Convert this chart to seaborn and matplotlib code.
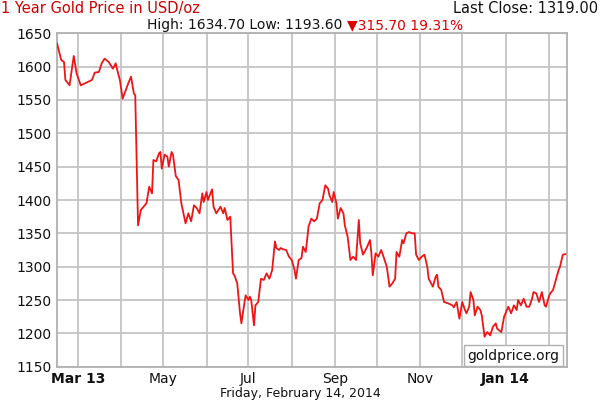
import numpy as np
import pandas as pd
import matplotlib
matplotlib.use("Agg")
import matplotlib.pyplot as plt
import matplotlib.dates as mdates
import seaborn as sns

# ---------------- data ----------------
start_date = "2013-02-14"
end_date = "2014-02-14"
day_offsets = [0, 3, 5, 6, 9, 12, 14, 17, 21, 25, 27, 30, 32, 34, 37, 40, 42, 43, 45, 47,
               51, 53, 55, 56, 58, 60, 62, 64, 66, 68, 69, 71, 73, 74, 75, 77, 79, 80, 82, 83,
               85, 87, 89, 92, 94, 96, 98, 100, 102, 104, 105, 107, 108, 111, 112, 114, 117, 119, 120, 122,
               124, 126, 127, 129, 131, 132, 133, 135, 137, 138, 139, 141, 142, 144, 146, 148, 150, 152, 154, 156,
               157, 159, 160, 162, 164, 166, 168, 170, 171, 173, 175, 176, 178, 179, 180, 182, 184, 186, 188, 190,
               192, 194, 195, 197, 198, 200, 201, 203, 205, 206, 208, 210, 212, 214, 216, 217, 219, 222, 224, 225,
               226, 228, 230, 232, 234, 236, 238, 240, 242, 243, 245, 247, 248, 250, 252, 254, 256, 257, 259, 261,
               263, 265, 266, 269, 271, 272, 273, 275, 277, 280, 283, 284, 286, 288, 290, 292, 293, 295, 296, 298,
               299, 301, 303, 304, 306, 308, 310, 312, 314, 315, 318, 320, 321, 323, 325, 327, 329, 330, 332, 334,
               336, 338, 340, 341, 343, 345, 347, 349, 350, 352, 353, 355, 357, 359, 360, 362, 364]
prices = [1635, 1610, 1607, 1580, 1572, 1616, 1590, 1572, 1576, 1580, 1591, 1592, 1605, 1612, 1607, 1597, 1605, 1596, 1580, 1552,
          1575, 1585, 1560, 1557, 1362, 1385, 1390, 1395, 1420, 1410, 1460, 1458, 1470, 1472, 1447, 1468, 1465, 1450, 1472, 1468,
          1436, 1430, 1395, 1365, 1380, 1368, 1392, 1388, 1380, 1410, 1397, 1412, 1400, 1416, 1390, 1380, 1390, 1380, 1388, 1370,
          1375, 1290, 1287, 1275, 1230, 1215, 1230, 1257, 1250, 1255, 1250, 1212, 1242, 1247, 1282, 1280, 1290, 1282, 1295, 1338,
          1328, 1325, 1328, 1326, 1325, 1315, 1310, 1295, 1282, 1310, 1313, 1330, 1322, 1340, 1360, 1372, 1368, 1372, 1395, 1400,
          1422, 1417, 1407, 1397, 1412, 1395, 1372, 1388, 1380, 1362, 1345, 1310, 1315, 1310, 1370, 1335, 1318, 1330, 1340, 1320,
          1287, 1320, 1315, 1325, 1313, 1300, 1270, 1275, 1282, 1322, 1315, 1340, 1335, 1350, 1352, 1350, 1350, 1318, 1310, 1315,
          1318, 1300, 1282, 1270, 1285, 1288, 1270, 1265, 1247, 1245, 1242, 1239, 1247, 1222, 1247, 1235, 1230, 1240, 1262, 1250,
          1227, 1240, 1235, 1227, 1195, 1202, 1197, 1210, 1215, 1207, 1202, 1225, 1230, 1240, 1230, 1242, 1235, 1250, 1242, 1252,
          1240, 1240, 1252, 1262, 1260, 1247, 1262, 1242, 1240, 1255, 1260, 1265, 1280, 1295, 1300, 1318, 1319]
y_ticks = [1150, 1200, 1250, 1300, 1350, 1400, 1450, 1500, 1550, 1600, 1650]
month_ticks = ["2013-03-01", "2013-04-01", "2013-05-01", "2013-06-01", "2013-07-01", "2013-08-01",
               "2013-09-01", "2013-10-01", "2013-11-01", "2013-12-01", "2014-01-01", "2014-02-01"]
month_labels = ["Mar 13", "", "May", "", "Jul", "", "Sep", "", "Nov", "", "Jan 14", ""]
bold_labels = ["Mar 13", "Jan 14"]
title_left = "1 Year Gold Price in USD/oz"
title_right = "Last Close: 1319.00"
stats_black = "High: 1634.70 Low: 1193.60 "
stats_red = "\u25bc315.70 19.31%"
footer = "Friday, February 14, 2014"
watermark = "goldprice.org"

# ---------------- styling ----------------
sns.set_theme(style="white")
plt.rcParams["font.family"] = ["DejaVu Sans"]

W, H = 600, 400
fig = plt.figure(figsize=(6, 4), dpi=100)
fig.patch.set_facecolor("white")
ax = fig.add_axes([57 / W, 1 - 366.7 / H, 510 / W, 333.4 / H])

df = pd.DataFrame({
    "date": pd.Timestamp(start_date) + pd.to_timedelta(day_offsets, unit="D"),
    "price": prices,
})
sns.lineplot(data=df, x="date", y="price", ax=ax, color="#ee1515", linewidth=1.3, zorder=3)

grid_c = "#c4c4c4"
ax.set_xlim(pd.Timestamp(start_date), pd.Timestamp(end_date))
ax.set_ylim(y_ticks[0], y_ticks[-1])
ax.set_yticks(y_ticks)
ax.set_yticklabels([str(v) for v in y_ticks])
ax.set_xticks([pd.Timestamp(m) for m in month_ticks])
ax.set_xticklabels(month_labels)
for lbl in ax.get_xticklabels():
    if lbl.get_text() in bold_labels:
        lbl.set_fontweight("bold")
ax.grid(True, color=grid_c, linewidth=1.3, zorder=0)
ax.set_axisbelow(True)
for s in ax.spines.values():
    s.set_color("#b0b0b0")
    s.set_linewidth(1.3)
ax.tick_params(axis="both", length=0, labelsize=10, colors="#111111")
ax.tick_params(axis="y", pad=4)
ax.tick_params(axis="x", pad=4)
ax.set_xlabel("")
ax.set_ylabel("")

# watermark box
ax.text(0.985, 0.012, watermark, transform=ax.transAxes, ha="right", va="bottom",
        fontsize=10, color="#111111", zorder=5,
        bbox=dict(boxstyle="square,pad=0.25", facecolor="white", edgecolor="#b0b0b0", linewidth=1))

# header texts (kept just inside the canvas)
fig.text(1 / W, 1 - 1 / H, title_left, ha="left", va="top", fontsize=10.5, color="#cc0000")
fig.text(598 / W, 1 - 1 / H, title_right, ha="right", va="top", fontsize=10.5, color="#111111")
fig.text(347 / W, 1 - 29 / H, stats_black, ha="right", va="baseline", fontsize=10, color="#111111")
fig.text(347 / W, 1 - 29 / H, stats_red, ha="left", va="baseline", fontsize=10, color="#dd0000")
fig.text(300 / W, 0.5 / H, footer, ha="center", va="bottom", fontsize=9, color="#111111")

fig.savefig("out.png", dpi=100, facecolor="white")
